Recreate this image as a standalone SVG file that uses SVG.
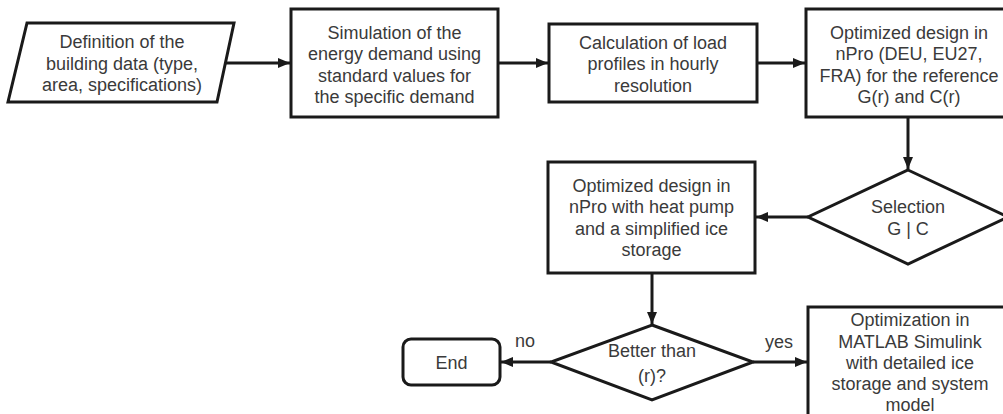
<svg xmlns="http://www.w3.org/2000/svg" width="1003" height="414" viewBox="0 0 1003 414">
  <defs>
    <marker id="arrow" viewBox="0 0 12 10" refX="12" refY="5" markerWidth="12" markerHeight="10" markerUnits="userSpaceOnUse" orient="auto">
      <path d="M0,0 L12,5 L0,10 Z" fill="#1a1a1a"/>
    </marker>
    <style>
      .shape { fill: #ffffff; stroke: #1a1a1a; stroke-width: 3; }
      .conn { fill: none; stroke: #1a1a1a; stroke-width: 3; marker-end: url(#arrow); }
      text { font-family: "Liberation Sans", Arial, sans-serif; font-size: 18px; fill: #3a3a3a; text-anchor: middle; }
    </style>
  </defs>
  <rect width="1003" height="414" fill="#ffffff"/>

  <!-- connectors -->
  <g id="connectors">
    <line class="conn" x1="226" y1="63" x2="290" y2="63"/>
    <line class="conn" x1="498" y1="63" x2="548" y2="63"/>
    <line class="conn" x1="757" y1="63" x2="805" y2="63"/>
    <line class="conn" x1="908" y1="117" x2="908" y2="169"/>
    <line class="conn" x1="808" y1="217" x2="756" y2="217"/>
    <line class="conn" x1="652" y1="273" x2="652" y2="324"/>
    <line class="conn" x1="551" y1="362" x2="501" y2="362"/>
    <line class="conn" x1="753" y1="362" x2="807" y2="362"/>
  </g>

  <!-- input: building data -->
  <g id="building-data">
    <polygon class="shape" points="27,23 234,23 217,102 8,102"/>
    <text x="122" y="48">Definition of the</text>
    <text x="122" y="69.5">building data (type,</text>
    <text x="122" y="91">area, specifications)</text>
  </g>

  <!-- energy demand simulation -->
  <g id="energy-demand">
    <rect class="shape" x="291" y="9" width="207" height="108"/>
    <text x="394.5" y="38.5">Simulation of the</text>
    <text x="394.5" y="60">energy demand using</text>
    <text x="394.5" y="81.5">standard values for</text>
    <text x="394.5" y="103">the specific demand</text>
  </g>

  <!-- load profiles -->
  <g id="load-profiles">
    <rect class="shape" x="549" y="24" width="208" height="78"/>
    <text x="653" y="48.5">Calculation of load</text>
    <text x="653" y="70">profiles in hourly</text>
    <text x="653" y="91.5">resolution</text>
  </g>

  <!-- reference design -->
  <g id="reference-design">
    <rect class="shape" x="806" y="9" width="206" height="108"/>
    <text x="909" y="38.5">Optimized design in</text>
    <text x="909" y="60">nPro (DEU, EU27,</text>
    <text x="909" y="81.5">FRA) for the reference</text>
    <text x="909" y="103">G(r) and C(r)</text>
  </g>

  <!-- selection decision -->
  <g id="selection">
    <polygon class="shape" points="908,170 1008,217 908,264 808,217"/>
    <text x="908" y="213">Selection</text>
    <text x="908" y="234.5">G | C</text>
  </g>

  <!-- heat pump design -->
  <g id="heat-pump-design">
    <rect class="shape" x="548" y="162" width="207" height="111"/>
    <text x="651.5" y="191.5">Optimized design in</text>
    <text x="651.5" y="213">nPro with heat pump</text>
    <text x="651.5" y="234.5">and a simplified ice</text>
    <text x="651.5" y="256">storage</text>
  </g>

  <!-- comparison decision -->
  <g id="better-than">
    <polygon class="shape" points="652,325 753,362 652,400 551,362"/>
    <text x="652" y="357">Better than</text>
    <text x="652" y="382">(r)?</text>
  </g>

  <!-- edge labels -->
  <g id="labels">
    <text x="525" y="347">no</text>
    <text x="779" y="348">yes</text>
  </g>

  <!-- end terminal -->
  <g id="end">
    <rect class="shape" x="403" y="339" width="97" height="46" rx="8" ry="8"/>
    <text x="451.5" y="368.5">End</text>
  </g>

  <!-- detailed simulation -->
  <g id="matlab-simulink">
    <rect class="shape" x="808" y="307" width="204" height="120"/>
    <text x="910" y="326">Optimization in</text>
    <text x="910" y="347.5">MATLAB Simulink</text>
    <text x="910" y="369">with detailed ice</text>
    <text x="910" y="390">storage and system</text>
    <text x="910" y="411">model</text>
  </g>
</svg>
